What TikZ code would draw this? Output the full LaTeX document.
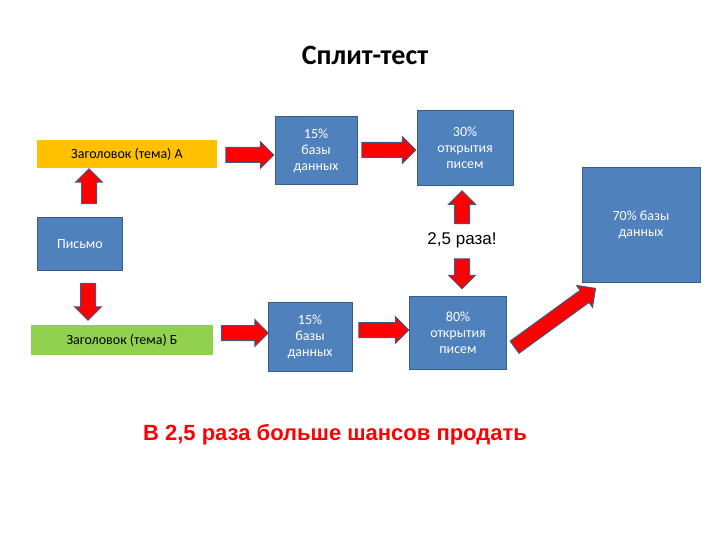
\documentclass[tikz,border=0pt]{standalone}
\usepackage{fontspec}
\setmainfont{Carlito}
\newfontfamily\arialb{Liberation Sans}
\usetikzlibrary{shapes.arrows}
\definecolor{boxblue}{HTML}{4F81BD}
\definecolor{boxedge}{HTML}{385D8A}
\definecolor{orangebox}{HTML}{FFC000}
\definecolor{greenbox}{HTML}{92D050}
\tikzset{
  bbox/.style={draw=boxedge,line width=1pt,fill=boxblue,text=white,align=center,font=\fontsize{14}{16}\selectfont,inner sep=0pt},
  lbox/.style={draw=none,align=center,font=\fontsize{14}{16}\selectfont,inner sep=0pt},
  barrow/.style={single arrow,fill=red,draw=boxedge,line width=1pt,inner sep=7pt,single arrow head extend=6pt,minimum height=#1}
}
\begin{document}
\begin{tikzpicture}[x=1pt,y=-1pt]
\useasboundingbox (0,0) rectangle (720,540);
\node (title) at (365,55) {\fontsize{28}{32}\selectfont\bfseries Сплит-тест};
\node[lbox,fill=orangebox,minimum width=180pt,minimum height=28pt] (A) at (127,154) {Заголовок (тема) А};
\node[bbox,minimum width=85pt,minimum height=52pt] (P) at (80,244) {Письмо};
\node[lbox,fill=greenbox,minimum width=182pt,minimum height=30pt] (B) at (122,340) {Заголовок (тема) Б};
\node[bbox,minimum width=82pt,minimum height=68pt] (d1) at (316,151) {15\%\\базы\\данных};
\node[bbox,minimum width=84pt,minimum height=69pt] (d2) at (310,337) {15\%\\базы\\данных};
\node[bbox,minimum width=96pt,minimum height=75pt] (o1) at (465,148) {30\%\\открытия\\писем};
\node[bbox,minimum width=97pt,minimum height=73pt] (o2) at (458,333) {80\%\\открытия\\писем};
\node[bbox,minimum width=118pt,minimum height=114pt] (r) at (641,225) {70\% базы\\данных};
\node (ratio) at (462,240) {\arialb\fontsize{17}{20}\selectfont 2,5 раза!};
\node (bottom) at (335,435) {\arialb\bfseries\color{red}\fontsize{22}{26}\selectfont В 2,5 раза больше шансов продать};
% arrows
\node[barrow=35pt,rotate=90] (aPA) at (89,190) {};
\node[barrow=37pt,rotate=-90] (aPB) at (88,298) {};
\node[barrow=48pt] (aA1) at (246,155) {};
\node[barrow=47pt] (aB2) at (241,333) {};
\node[barrow=54pt] (a12) at (385,150) {};
\node[barrow=50pt] (a22) at (380,330) {};
\node[barrow=33pt,rotate=90] (aUp) at (462,211) {};
\node[barrow=30pt,rotate=-90] (aDn) at (462,270) {};
\node[barrow=100pt,rotate=36] (aDiag) at (552,320) {};
\end{tikzpicture}
\end{document}
